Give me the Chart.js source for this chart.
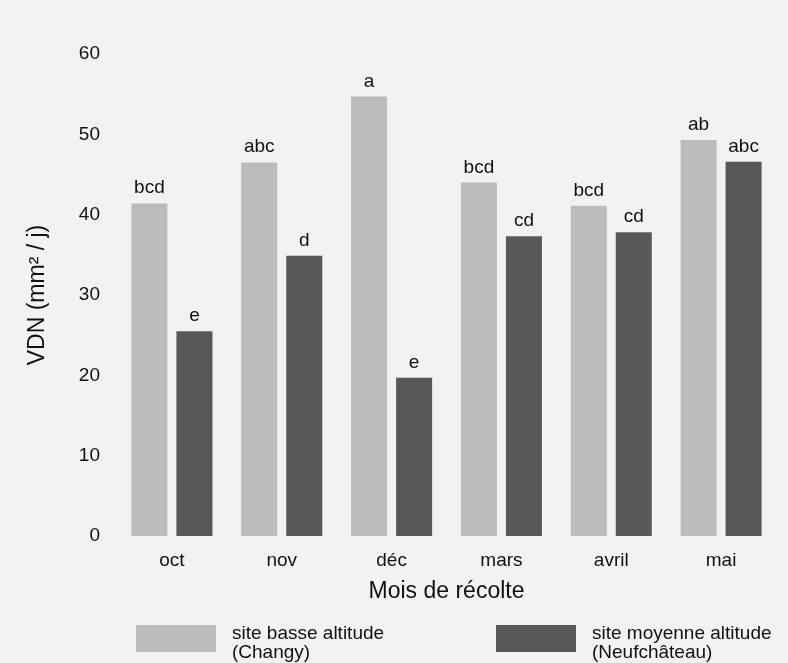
<!DOCTYPE html>
<html>
<head>
<meta charset="utf-8">
<script src="https://cdn.jsdelivr.net/npm/chart.js@4.4.1/dist/chart.umd.min.js"></script>
<style>
  html, body { margin: 0; padding: 0; background: #f2f2f2; }
  #wrap { width: 788px; height: 663px; position: relative; }
</style>
</head>
<body>
<div id="wrap"><canvas id="c" width="788" height="663"></canvas></div>
<script>
// Mois de récolte
const months = ['oct', 'nov', 'déc', 'mars', 'avril', 'mai'];
// VDN (mm² / j) par site
const basseAltitude = [41.4, 46.5, 54.7, 44.0, 41.1, 49.3];
const moyenneAltitude = [25.5, 34.9, 19.7, 37.3, 37.8, 46.6];
// Groupes statistiques affichés au-dessus des barres
const lettersBasse = ['bcd', 'abc', 'a', 'bcd', 'bcd', 'ab'];
const lettersMoyenne = ['e', 'd', 'e', 'cd', 'cd', 'abc'];
// Légende
const legendBasse = ['site basse altitude', '(Changy)'];
const legendMoyenne = ['site moyenne altitude', '(Neufchâteau)'];
const yTicks = [0, 10, 20, 30, 40, 50, 60];

const FONT = '"Liberation Sans", Arial, sans-serif';
const LIGHT = '#bcbcbc';
const DARK = '#585858';

const barLetters = {
  id: 'barLetters',
  afterDatasetsDraw(chart) {
    const ctx = chart.ctx;
    ctx.save();
    ctx.font = '19px ' + FONT;
    ctx.fillStyle = '#111';
    ctx.textAlign = 'center';
    ctx.textBaseline = 'alphabetic';
    [lettersBasse, lettersMoyenne].forEach((letters, di) => {
      chart.getDatasetMeta(di).data.forEach((bar, i) => {
        ctx.fillText(letters[i], bar.x, bar.y - 10);
      });
    });
    ctx.restore();
  }
};

const bottomLegend = {
  id: 'bottomLegend',
  afterDraw(chart) {
    const ctx = chart.ctx;
    const items = [
      { color: chart.data.datasets[0].backgroundColor, lines: legendBasse, x: 136 },
      { color: chart.data.datasets[1].backgroundColor, lines: legendMoyenne, x: 496 }
    ];
    ctx.save();
    items.forEach(it => {
      ctx.fillStyle = it.color;
      ctx.fillRect(it.x, 625, 80, 27);
      ctx.fillStyle = '#111';
      ctx.font = '19px ' + FONT;
      ctx.textAlign = 'left';
      ctx.textBaseline = 'alphabetic';
      ctx.fillText(it.lines[0], it.x + 96, 639);
      ctx.fillText(it.lines[1], it.x + 96, 658);
    });
    ctx.restore();
  }
};

new Chart(document.getElementById('c'), {
  type: 'bar',
  data: {
    labels: months,
    datasets: [
      { label: legendBasse.join(' '), data: basseAltitude, backgroundColor: LIGHT,
        categoryPercentage: 0.82, barPercentage: 0.8 },
      { label: legendMoyenne.join(' '), data: moyenneAltitude, backgroundColor: DARK,
        categoryPercentage: 0.82, barPercentage: 0.8 }
    ]
  },
  options: {
    responsive: false,
    animation: false,
    layout: { padding: { left: 0, right: 12, top: 54, bottom: 58 } },
    plugins: {
      legend: { display: false },
      tooltip: { enabled: false }
    },
    scales: {
      x: {
        grid: { display: false, drawTicks: false },
        border: { display: false },
        ticks: { color: '#111', font: { family: FONT, size: 19 }, padding: 13 },
        title: { display: true, text: 'Mois de récolte', color: '#111',
                 font: { family: FONT, size: 23 }, padding: { top: 0, bottom: 0 } },
        afterFit(s) { s.height = 69; }
      },
      y: {
        min: 0, max: 60,
        afterBuildTicks(s) { s.ticks = yTicks.map(v => ({ value: v })); },
        grid: { display: false, drawTicks: false },
        border: { display: false },
        ticks: { color: '#111', font: { family: FONT, size: 19 }, padding: 17 },
        title: { display: true, text: 'VDN (mm² / j)', color: '#111',
                 font: { family: FONT, size: 23 }, padding: { top: 24, bottom: 0 } },
        afterFit(s) { s.width = 117; }
      }
    }
  },
  plugins: [barLetters, bottomLegend]
});
</script>
</body>
</html>
